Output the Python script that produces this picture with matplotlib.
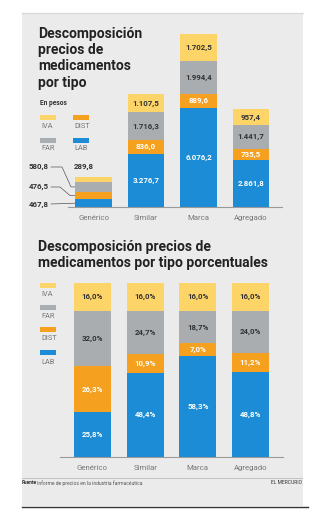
import matplotlib
matplotlib.use("Agg")
import matplotlib.pyplot as plt
from matplotlib.patches import Rectangle

plt.rcParams['font.family'] = ['Roboto', 'DejaVu Sans']

# data
categories = ['Genérico', 'Similar', 'Marca', 'Agregado']
lab = [467.8, 3276.7, 6076.2, 2861.8]
dist = [476.5, 836.0, 889.6, 735.5]
far = [580.8, 1716.3, 1994.4, 1441.7]
iva = [289.8, 1107.5, 1702.5, 957.4]

lab_pct = [25.8, 48.4, 58.3, 48.8]
dist_pct = [26.3, 10.9, 7.0, 11.2]
far_pct = [32.0, 24.7, 18.7, 24.0]
iva_pct = [16.0, 16.0, 16.0, 16.0]

C_IVA = '#fcd468'
C_FAR = '#a9adb0'
C_DIST = '#f5a11f'
C_LAB = '#1b8cd5'
DARK = '#333333'

W, H = 325, 524
fig = plt.figure(figsize=(W / 100, H / 100), dpi=100)


def box(l, t, r, b):
    return [l / W, 1 - b / H, (r - l) / W, (b - t) / H]


# overlay in pixel coords for panel, titles, legends
ov = fig.add_axes([0, 0, 1, 1], zorder=0)
ov.set_xlim(0, W)
ov.set_ylim(H, 0)
ov.axis('off')
ov.add_patch(Rectangle((22, 13), 281, 493, color='#ebebeb', lw=0))
ov.plot([22, 303], [13, 13], color='#d6d6d6', lw=0.8)
ov.plot([22, 308], [507, 507], color='#333333', lw=1)


def pesos(v):
    s = f"{v:,.1f}"
    return s.replace(',', 'X').replace('.', ',').replace('X', '.')


def pct(v):
    return f"{v:.1f}%".replace('.', ',')


def style_ax(ax):
    for s in ['top', 'right', 'left']:
        ax.spines[s].set_visible(False)
    ax.spines['bottom'].set_color('#9a9a9a')
    ax.spines['bottom'].set_linewidth(0.8)
    ax.set_yticks([])
    ax.set_xticks(range(len(categories)))
    ax.set_xticklabels(categories, fontsize=5.6, color='#777777')
    ax.tick_params(axis='x', length=0, pad=6)
    ax.patch.set_alpha(0)


# ---- top chart: pesos ----
ax1 = fig.add_axes(box(68, 33, 282, 207), zorder=1)
x = range(len(categories))
bw = 0.7
b1 = lab
b2 = [a + b for a, b in zip(b1, dist)]
b3 = [a + b for a, b in zip(b2, far)]
ax1.bar(x, lab, bw, color=C_LAB)
ax1.bar(x, dist, bw, bottom=b1, color=C_DIST)
ax1.bar(x, far, bw, bottom=b2, color=C_FAR)
ax1.bar(x, iva, bw, bottom=b3, color=C_IVA)
ax1.set_xlim(-0.486, 3.59)
ax1.set_ylim(0, 10700)
style_ax(ax1)

for i in range(1, 4):
    ax1.text(i, lab[i] / 2, pesos(lab[i]), ha='center', va='center',
             color='white', fontsize=5.7, fontweight='bold')
    ax1.text(i, b1[i] + dist[i] / 2, pesos(dist[i]), ha='center', va='center',
             color='white', fontsize=5.7, fontweight='bold')
    ax1.text(i, b2[i] + far[i] / 2, pesos(far[i]), ha='center', va='center',
             color=DARK, fontsize=5.7, fontweight='bold')
    ax1.text(i, b3[i] + iva[i] / 2, pesos(iva[i]), ha='center', va='center',
             color=DARK, fontsize=5.7, fontweight='bold')

# Genérico labels with leader lines
fig.canvas.draw()


def to_px(ax, xv, yv):
    dx, dy = ax.transData.transform((xv, yv))
    return dx, H - dy


edge = -bw / 2
_, y_far = to_px(ax1, 0, b2[0] + far[0] / 2)
_, y_dist = to_px(ax1, 0, b1[0] + dist[0] / 2)
_, y_lab = to_px(ax1, 0, lab[0] / 2)
xe, y_top = to_px(ax1, edge, b3[0] + iva[0])
lc = '#555555'
ov.text(49, 167, pesos(far[0]), ha='right', va='center', fontsize=5.7,
        fontweight='bold', color=DARK)
ov.plot([51, 62, 71, xe], [167, 167, y_far, y_far], color=lc, lw=0.5)
ov.text(49, 187, pesos(dist[0]), ha='right', va='center', fontsize=5.7,
        fontweight='bold', color=DARK)
ov.plot([51, 60, 70, xe], [187, 187, y_dist, y_dist], color=lc, lw=0.5)
ov.text(49, 204, pesos(lab[0]), ha='right', va='center', fontsize=5.7,
        fontweight='bold', color=DARK)
ov.plot([51, xe], [204, y_lab], color=lc, lw=0.5)
ov.text(74, 167, pesos(iva[0]), ha='left', va='center', fontsize=5.7,
        fontweight='bold', color=DARK)

# titles
ov.text(38, 27, 'Descomposición\nprecios de\nmedicamentos\npor tipo', ha='left',
        va='top', fontsize=10, fontweight='bold', color='#222222', linespacing=1.2)
ov.text(40, 103, 'En pesos', ha='left', va='center', fontsize=4.8,
        fontweight='bold', color=DARK)

# top legend
for (lx, ly, c, t) in [(40, 115, C_IVA, 'IVA'), (73, 115, C_DIST, 'DIST'),
                       (40, 138, C_FAR, 'FAR'), (73, 138, C_LAB, 'LAB')]:
    ov.add_patch(Rectangle((lx, ly), 16, 4.5, color=c, lw=0))
    ov.text(lx + 1, ly + 11, t, ha='left', va='center', fontsize=5.3,
            color='#777777')

# ---- bottom chart: porcentuales ----
ax2 = fig.add_axes(box(60, 283, 283, 457), zorder=1)
p1 = lab_pct
p2 = [a + b for a, b in zip(p1, dist_pct)]
p3 = [a + b for a, b in zip(p2, far_pct)]
ax2.bar(x, lab_pct, bw, color=C_LAB)
ax2.bar(x, dist_pct, bw, bottom=p1, color=C_DIST)
ax2.bar(x, far_pct, bw, bottom=p2, color=C_FAR)
ax2.bar(x, iva_pct, bw, bottom=p3, color=C_IVA)
ax2.set_xlim(-0.617, 3.617)
ax2.set_ylim(0, 100)
style_ax(ax2)

for i in range(4):
    ax2.text(i, lab_pct[i] / 2, pct(lab_pct[i]), ha='center', va='center',
             color='white', fontsize=5.7, fontweight='bold')
    ax2.text(i, p1[i] + dist_pct[i] / 2, pct(dist_pct[i]), ha='center',
             va='center', color='white', fontsize=5.7, fontweight='bold')
    ax2.text(i, p2[i] + far_pct[i] / 2, pct(far_pct[i]), ha='center',
             va='center', color=DARK, fontsize=5.7, fontweight='bold')
    ax2.text(i, p3[i] + iva_pct[i] / 2, pct(iva_pct[i]), ha='center',
             va='center', color=DARK, fontsize=5.7, fontweight='bold')

ov.text(38, 240, 'Descomposición precios de\nmedicamentos por tipo porcentuales',
        ha='left', va='top', fontsize=10, fontweight='bold', color='#222222',
        linespacing=1.2)

for (ly, c, t) in [(283, C_IVA, 'IVA'), (305, C_FAR, 'FAR'),
                   (327, C_DIST, 'DIST'), (350, C_LAB, 'LAB')]:
    ov.add_patch(Rectangle((40, ly), 16, 4.5, color=c, lw=0))
    ov.text(41, ly + 12, t, ha='left', va='center', fontsize=5.3,
            color='#777777')

# footer
ov.plot([22, 302], [478, 478], color='#bdbdbd', lw=0.6)
ov.text(22, 483, 'Fuente', ha='left', va='center', fontsize=3.6,
        fontweight='bold', color=DARK)
ov.text(37, 483, 'Informe de precios en la industria farmacéutica', ha='left',
        va='center', fontsize=3.6, color='#555555')
ov.text(302, 483, 'EL MERCURIO', ha='right', va='center', fontsize=3.6,
        color=DARK)

fig.savefig('out.png', dpi=100)
